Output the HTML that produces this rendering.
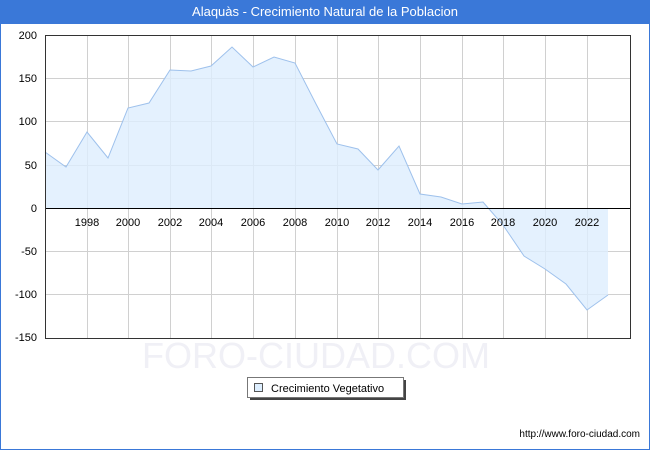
<!DOCTYPE html>
<html><head><meta charset="utf-8"><style>
body{margin:0;width:650px;height:450px;background:#fff;font-family:"Liberation Sans",sans-serif;overflow:hidden}
</style></head><body>
<svg width="650" height="450" xmlns="http://www.w3.org/2000/svg" font-family="Liberation Sans, sans-serif">
<rect x="0.5" y="0.5" width="649" height="449" fill="#fff" stroke="#3a78d8"/>
<rect x="0" y="0" width="650" height="24" fill="#3a78d8"/>
<text x="325" y="16" text-anchor="middle" font-size="13" fill="#fff">Alaquàs - Crecimiento Natural de la Poblacion</text>
<g stroke="#d0d0d0" stroke-width="1">
<line x1="45" y1="35.5" x2="630" y2="35.5"/><line x1="45" y1="78.5" x2="630" y2="78.5"/><line x1="45" y1="121.5" x2="630" y2="121.5"/><line x1="45" y1="165.5" x2="630" y2="165.5"/><line x1="45" y1="251.5" x2="630" y2="251.5"/><line x1="45" y1="294.5" x2="630" y2="294.5"/>
<line x1="87.5" y1="35" x2="87.5" y2="338"/><line x1="128.5" y1="35" x2="128.5" y2="338"/><line x1="170.5" y1="35" x2="170.5" y2="338"/><line x1="211.5" y1="35" x2="211.5" y2="338"/><line x1="253.5" y1="35" x2="253.5" y2="338"/><line x1="295.5" y1="35" x2="295.5" y2="338"/><line x1="337.5" y1="35" x2="337.5" y2="338"/><line x1="378.5" y1="35" x2="378.5" y2="338"/><line x1="420.5" y1="35" x2="420.5" y2="338"/><line x1="462.5" y1="35" x2="462.5" y2="338"/><line x1="503.5" y1="35" x2="503.5" y2="338"/><line x1="545.5" y1="35" x2="545.5" y2="338"/><line x1="587.5" y1="35" x2="587.5" y2="338"/>
</g>
<polygon fill="#ddeefe" fill-opacity="0.8" points="45,208 45,152 66,167 87,132 108,158 128,108 149,103 170,70 191,71 211,66 232,47 253,67 274,57 295,63 316,104 337,144 358,149 378,170 399,146 420,194 441,197 462,204 483,202 503,225 524,256 545,269 566,284 587,310 608,295 608,208"/>
<polyline fill="none" stroke="#9ec1ec" stroke-width="1" points="45,152 66,167 87,132 108,158 128,108 149,103 170,70 191,71 211,66 232,47 253,67 274,57 295,63 316,104 337,144 358,149 378,170 399,146 420,194 441,197 462,204 483,202 503,225 524,256 545,269 566,284 587,310 608,295"/>
<line x1="45" y1="208.5" x2="630" y2="208.5" stroke="#000"/>
<rect x="45.5" y="35.5" width="585" height="303" fill="none" stroke="#333"/>
<text x="316" y="368" text-anchor="middle" font-size="36" fill="#f0f0f6">FORO-CIUDAD.COM</text>
<g font-size="11" fill="#000" text-anchor="end">
<text x="37" y="39">200</text><text x="37" y="82">150</text><text x="37" y="125">100</text><text x="37" y="169">50</text><text x="37" y="212">0</text><text x="37" y="255">-50</text><text x="37" y="298">-100</text><text x="37" y="341">-150</text>
</g>
<g font-size="11" fill="#000" text-anchor="middle">
<text x="87" y="226">1998</text><text x="128" y="226">2000</text><text x="170" y="226">2002</text><text x="211" y="226">2004</text><text x="253" y="226">2006</text><text x="295" y="226">2008</text><text x="337" y="226">2010</text><text x="378" y="226">2012</text><text x="420" y="226">2014</text><text x="462" y="226">2016</text><text x="503" y="226">2018</text><text x="545" y="226">2020</text><text x="587" y="226">2022</text>
</g>
<rect x="250" y="380" width="156" height="20" fill="#444"/>
<rect x="247.5" y="377.5" width="156" height="20" fill="#fff" stroke="#777"/>
<rect x="254.5" y="383.5" width="8" height="8" fill="#ddeefe" stroke="#555"/>
<text x="271" y="392" font-size="11">Crecimiento Vegetativo</text>
<text x="640" y="437" text-anchor="end" font-size="10">http://www.foro-ciudad.com</text>
</svg>
</body></html>
